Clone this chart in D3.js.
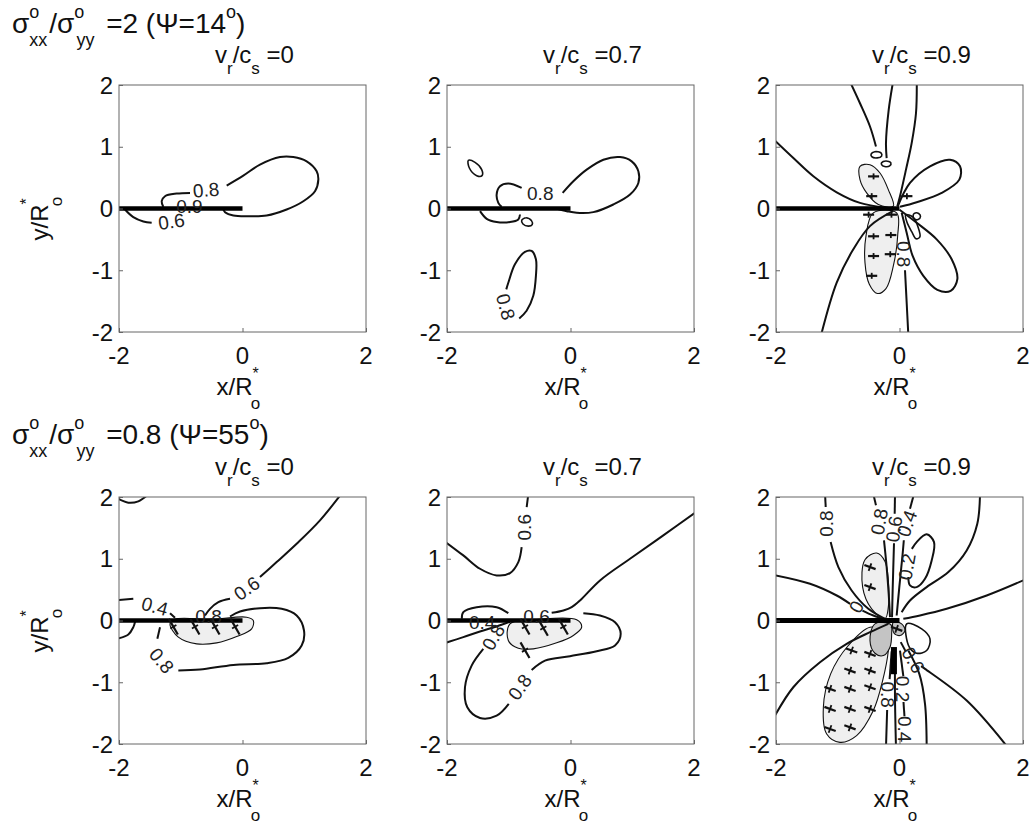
<!DOCTYPE html>
<html>
<head>
<meta charset="utf-8">
<script src="https://cdn.jsdelivr.net/npm/d3@7"></script>
<style>
  body { margin: 0; background: #fff; }
  text { font-family: "Liberation Sans", Arial, Helvetica, sans-serif; fill: #111; }
</style>
</head>
<body>
<svg id="fig" width="1030" height="836"></svg>
<script>
// ---- axis ticks and panel captions ----
const xTicks = [-2, 0, 2];
const yTicks = [-2, -1, 0, 1, 2];
const speedRatios = ["0", "0.7", "0.9"];
const stressRatios = ["2", "0.8"];
const psiAngles = ["14", "55"];

// ---- contour lines, in units of R*o ----
// stress ratio 2, vr/cs = 0
const a_lobe = [[-0.256,0.371],[0.013,0.532],[0.283,0.71],[0.607,0.833],[0.823,0.833],[1.039,0.763],[1.201,0.602],[1.228,0.468],[1.174,0.28],[0.985,0.118],[0.715,-0.016],[0.391,-0.113],[0.121,-0.124],[-0.148,-0.113],[-0.283,-0.059],[-0.31,-0.016]];
const a_hook = [[-0.85,0.253],[-1.066,0.242],[-1.255,0.199],[-1.309,0.118],[-1.282,0.027]];
const a_c06 = [[-1.903,-0.016],[-1.768,-0.14],[-1.606,-0.21],[-1.471,-0.231]];
const a_labels = [["0.8",-0.59,0.30,-5],["0.6",-1.15,-0.21,-8],["0.9",-0.86,0.03,0]];

// stress ratio 2, vr/cs = 0.7
const b_ring = [[-1.654,0.78],[-1.546,0.747],[-1.438,0.629],[-1.433,0.532],[-1.519,0.532],[-1.638,0.656]];
const b_lobe = [[-0.127,0.253],[0.046,0.441],[0.262,0.629],[0.532,0.79],[0.802,0.833],[0.991,0.763],[1.099,0.602],[1.099,0.414],[0.964,0.226],[0.694,0.065],[0.37,-0.059],[0.1,-0.07],[-0.062,-0.043],[-0.224,-0.005]];
const b_hook = [[-0.791,0.333],[-1.007,0.403],[-1.142,0.36],[-1.196,0.226],[-1.169,0.091],[-1.115,0.027]];
const b_under = [[-1.465,-0.043],[-1.357,-0.167],[-1.196,-0.22],[-0.98,-0.22],[-0.845,-0.177],[-0.818,-0.097]];
const b_dot = [[-0.79,-0.19],[-0.72,-0.15],[-0.63,-0.2],[-0.62,-0.26],[-0.68,-0.285],[-0.77,-0.25]];
const b_low = [[-1.04,-1.31],[-1.006,-1.199],[-0.9,-0.903],[-0.738,-0.704],[-0.63,-0.688],[-0.56,-0.823],[-0.56,-1.091],[-0.603,-1.414],[-0.711,-1.656],[-0.83,-1.78]];
const b_labels = [["0.8",-0.49,0.24,0],["0.8",-1.05,-1.59,75]];

// stress ratio 2, vr/cs = 0.9
const c_l1 = [[-2.05,1.13],[-1.719,0.817],[-1.395,0.522],[-1.017,0.263],[-0.64,0.091],[-0.208,0.011],[-0.05,0]];
const c_l2 = [[-0.8,2.05],[-0.64,1.704],[-0.478,1.328],[-0.381,1.005]];
const c_l3 = [[-0.105,2.05],[-0.175,1.597],[-0.219,1.059],[-0.208,0.817]];
const c_l4 = [[0.28,2.05],[0.267,1.543],[0.197,1.059],[0.105,0.629],[0.008,0.199],[-0.035,0.038]];
const c_upper = [[-0.03,0.03],[0.17,0.414],[0.494,0.683],[0.818,0.79],[0.98,0.683],[0.969,0.468],[0.683,0.253],[0.278,0.102],[0.008,0.027]];
const c_lower = [[0.0,-0.02],[0.278,-0.231],[0.602,-0.5],[0.845,-0.823],[0.937,-1.145],[0.829,-1.333],[0.613,-1.317],[0.386,-1.091],[0.213,-0.769],[0.116,-0.392],[0.035,-0.07]];
const c_diag = [[-0.1,-0.04],[-0.478,-0.285],[-0.748,-0.661],[-1.017,-1.199],[-1.27,-2.05]];
const c_stem = [[0.089,-1.0],[0.116,-1.522],[0.143,-2.05]];
const c_ringA = [[-0.46,0.88],[-0.4,0.92],[-0.3,0.9],[-0.29,0.85],[-0.36,0.82],[-0.45,0.84]];
const c_ringB = [[-0.29,0.74],[-0.22,0.77],[-0.14,0.74],[-0.16,0.69],[-0.24,0.68],[-0.29,0.71]];
const c_ringC = [[0.1,-0.1],[0.22,-0.14],[0.3,-0.3],[0.33,-0.46],[0.27,-0.49],[0.2,-0.38],[0.12,-0.22]];
const c_ringD = [[0.24,-0.08],[0.31,-0.08],[0.34,-0.13],[0.3,-0.18],[0.24,-0.17],[0.22,-0.12]];
const c_shadeUp = [[-0.64,0.683],[-0.478,0.71],[-0.316,0.575],[-0.181,0.306],[-0.1,0.038],[-0.343,0.065],[-0.532,0.253],[-0.64,0.468]];
const c_shadeDown = [[-0.424,-0.07],[-0.543,-0.446],[-0.559,-0.876],[-0.489,-1.226],[-0.359,-1.376],[-0.219,-1.296],[-0.1,-0.93],[-0.03,-0.446],[-0.046,-0.07]];
const c_marks = [[-0.42,0.52],[-0.45,0.2],[-0.5,-0.1],[-0.13,-0.1],[-0.42,-0.45],[-0.14,-0.43],[-0.42,-0.77],[-0.15,-0.74],[-0.45,-1.09],[0.12,0.2]];
const c_labels = [["0.8",0.06,-0.74,90]];

// stress ratio 0.8, vr/cs = 0
const d_corner = [[-2.05,1.99],[-1.849,1.908],[-1.687,1.93],[-1.552,2.02]];
const d_c06 = [[1.6,2.05],[1.255,1.622],[0.877,1.243],[0.553,0.946],[0.283,0.703]];
const d_c06b = [[-0.202,0.351],[-0.391,0.297],[-0.526,0.189],[-0.607,0.081]];
const d_c04 = [[-2.05,0.33],[-1.768,0.351]];
const d_c04b = [[-1.174,0.119],[-1.093,0.043]];
const d_left = [[-2.05,-0.3],[-1.849,-0.227],[-1.768,-0.108],[-1.74,-0.02]];
const d_c08 = [[-1.336,-0.108],[-1.379,-0.297]];
const d_c08b = [[-1.039,-0.811],[-0.688,-0.795],[-0.148,-0.719],[0.391,-0.692],[0.742,-0.605],[0.958,-0.405],[0.996,-0.162],[0.877,0.081],[0.634,0.189],[0.283,0.2],[-0.04,0.146],[-0.202,0.065]];
const d_shade = [[-1.174,-0.054],[-1.039,-0.27],[-0.742,-0.378],[-0.418,-0.362],[-0.094,-0.259],[0.148,-0.135],[0.175,0.0],[0.067,0.054],[-0.5,0.02],[-1.1,0.02]];
const d_marks = [[-1.12,-0.1],[-0.77,-0.1],[-0.445,-0.1],[-0.12,-0.1]];
const d_labels = [["0.6",0.07,0.52,-35],["0.4",-1.42,0.23,15],["0.8",-1.31,-0.65,50],["0.8",-0.55,0.06,0]];

// stress ratio 0.8, vr/cs = 0.7
const e_top = [[-0.683,2.05],[-0.71,1.838]];
const e_topb = [[-0.791,1.189],[-0.845,0.946],[-0.98,0.768],[-1.196,0.73],[-1.466,0.838],[-1.736,1.054],[-2.05,1.29]];
const e_long = [[2.05,1.77],[1.503,1.378],[0.964,1.0],[0.478,0.649],[0.154,0.324],[0.019,0.216],[-0.116,0.162],[-0.305,0.124]];
const e_loop = [[-1.76,0.03],[-1.736,0.135],[-1.52,0.216],[-1.196,0.216],[-1.007,0.119]];
const e_below = [[-2.05,-0.37],[-1.736,-0.27],[-1.466,-0.178],[-1.196,-0.097],[-0.98,-0.02]];
const e_c08 = [[-1.412,-0.459],[-1.601,-0.73],[-1.709,-1.081],[-1.671,-1.405],[-1.466,-1.578],[-1.196,-1.541],[-1.0,-1.35]];
const e_c08b = [[-0.629,-0.8],[-0.413,-0.649],[-0.008,-0.578],[0.424,-0.497],[0.721,-0.405],[0.813,-0.216],[0.721,-0.027],[0.478,0.081],[0.208,0.119]];
const e_shade = [[-0.98,-0.054],[-1.007,-0.324],[-0.845,-0.449],[-0.602,-0.459],[-0.224,-0.362],[0.046,-0.243],[0.181,-0.108],[0.1,0.011],[-0.5,0.02]];
const e_marks = [[-0.737,-0.1],[-0.44,-0.12],[-0.116,-0.1],[-0.737,-0.48]];
const e_labels = [["0.6",-0.74,1.51,-90],["0.6",-0.55,0.07,0],["0.4",-1.43,-0.03,0],["0.8",-1.25,-0.27,-60],["0.8",-0.82,-1.08,-55]];

// stress ratio 0.8, vr/cs = 0.9
const f_l1 = [[-2.05,0.74],[-1.449,0.595],[-1.017,0.405],[-0.8,0.27]];
const f_l1b = [[-0.6,0.16],[-0.424,0.081],[-0.181,0.011]];
const f_l2 = [[-1.206,2.05],[-1.195,1.838]];
const f_l2b = [[-1.115,1.27],[-0.99,0.865],[-0.775,0.486],[-0.505,0.189],[-0.235,0.027]];
const f_l3 = [[-0.424,2.05],[-0.381,1.865]];
const f_l3b = [[-0.251,1.297],[-0.208,0.865],[-0.175,0.432],[-0.154,0.054]];
const f_l4 = [[-0.073,2.05],[-0.078,1.73]];
const f_l4b = [[-0.089,1.25],[-0.111,0.486],[-0.121,0.054]];
const f_l5 = [[0.235,2.05],[0.17,1.811]];
const f_l5b = [[0.07,1.3],[0.051,1.081],[-0.003,0.541],[-0.046,0.081]];
const f_arc = [[1.304,2.05],[1.26,1.568],[1.088,1.135],[0.791,0.784],[0.44,0.541],[0.17,0.324],[0.035,0.135]];
const f_c02 = [[0.2,1.16],[0.278,1.27],[0.44,1.395],[0.559,1.27],[0.521,0.973],[0.413,0.676],[0.278,0.541],[0.17,0.568],[0.143,0.703]];
const f_right = [[2.05,0.67],[1.412,0.405],[0.764,0.189],[0.332,0.081],[0.062,0.027]];
const f_fan1 = [[0.02,-0.35],[0.1,-0.5]];
const f_fan1b = [[0.35,-0.74],[0.413,-0.784],[1.088,-1.297],[1.75,-2.05]];
const f_stemA = [[-0.127,-0.5],[-0.16,-0.95]];
const f_stemAb = [[-0.2,-1.45],[-0.219,-2.05]];
const f_stemB = [[-0.073,-0.541],[-0.073,-1.243],[-0.057,-2.05]];
const f_stemC = [[0.008,-0.486],[0.062,-0.9]];
const f_stemCb = [[0.065,-1.32],[0.08,-1.55]];
const f_stemD = [[0.143,-0.486],[0.321,-0.865],[0.413,-1.351],[0.44,-2.05]];
const f_sweep = [[-2.05,-1.6],[-1.72,-1.081],[-1.287,-0.676],[-0.856,-0.378],[-0.478,-0.189],[-0.181,-0.054]];
const f_loop = [[0.116,-0.054],[0.359,-0.135],[0.494,-0.297],[0.44,-0.486],[0.278,-0.53],[0.159,-0.432]];
const f_shadeDown = [[-0.478,-0.108],[-0.829,-0.405],[-1.115,-0.865],[-1.233,-1.405],[-1.179,-1.838],[-0.964,-1.973],[-0.694,-1.865],[-0.424,-1.459],[-0.273,-0.973],[-0.181,-0.486],[-0.181,-0.189]];
const f_shadeUp = [[-0.559,0.984],[-0.37,1.092],[-0.235,0.957],[-0.181,0.649],[-0.181,0.216],[-0.235,0.027],[-0.451,0.189],[-0.597,0.541]];
const f_darkA = [[-0.397,-0.054],[-0.478,-0.324],[-0.397,-0.53],[-0.262,-0.568],[-0.154,-0.432],[-0.127,-0.216],[-0.143,-0.065]];
const f_darkB = [[-0.1,-0.027],[0.035,-0.054],[0.089,-0.162],[0.008,-0.243],[-0.089,-0.205]];
const f_wedge = [[-0.09,-0.43],[-0.09,-0.87]];
const f_marks = [[-0.775,-0.486],[-0.478,-0.541],[-0.802,-0.811],[-0.478,-0.811],[-1.125,-1.108],[-0.802,-1.108],[-0.478,-1.081],[-1.125,-1.432],[-0.802,-1.432],[-0.478,-1.432],[-1.125,-1.757],[-0.802,-1.73],[-0.478,0.865],[-0.478,0.541],[-0.046,-0.135]];
const f_labels = [["0.8",-1.18,1.57,-90],["0.8",-0.33,1.6,-80],["0.6",-0.09,1.48,-82],["0.4",0.12,1.57,-70],["0.2",0.12,0.87,-80],["0",-0.7,0.22,-60],["0.6",0.22,-0.64,60],["0.2",0.05,-1.11,90],["0.8",-0.19,-1.2,90],["0.4",0.08,-1.76,90]];

// ---- panel table built from the arrays above ----
const panels = [
  { row: 0, col: 0, open: [a_lobe, a_hook, a_c06], closed: [], light: [], dark: [],
    labels: a_labels, marks: [], mark: null },
  { row: 0, col: 1, open: [b_lobe, b_hook, b_under, b_low], closed: [b_ring, b_dot], light: [], dark: [],
    labels: b_labels, marks: [], mark: null },
  { row: 0, col: 2, open: [c_l1, c_l2, c_l3, c_l4, c_upper, c_lower, c_diag, c_stem],
    closed: [c_ringA, c_ringB, c_ringC, c_ringD], light: [c_shadeUp, c_shadeDown], dark: [],
    labels: c_labels, marks: c_marks, mark: { len: 11, cross: 6, angle: 0 } },
  { row: 1, col: 0, open: [d_corner, d_c06, d_c06b, d_c04, d_c04b, d_left, d_c08, d_c08b], closed: [],
    light: [d_shade], dark: [], labels: d_labels, marks: d_marks, mark: { len: 18, cross: 7, angle: 60 } },
  { row: 1, col: 1, open: [e_top, e_topb, e_long, e_loop, e_below, e_c08, e_c08b], closed: [],
    light: [e_shade], dark: [], labels: e_labels, marks: e_marks, mark: { len: 18, cross: 7, angle: 60 } },
  { row: 1, col: 2, open: [f_l1, f_l1b, f_l2, f_l2b, f_l3, f_l3b, f_l4, f_l4b, f_l5, f_l5b, f_arc, f_c02,
      f_right, f_fan1, f_fan1b, f_stemA, f_stemAb, f_stemB, f_stemC, f_stemCb, f_stemD, f_sweep],
    closed: [f_loop], light: [f_shadeDown, f_shadeUp], dark: [f_darkA, f_darkB],
    labels: f_labels, marks: f_marks, mark: { len: 12, cross: 8, angle: 20 }, wedge: f_wedge }
];

// ---- layout ----
const colLeft = [119, 447, 776];
const rowTop = [85, 497];
const side = 247;

const svg = d3.select("#fig");
const x = d3.scaleLinear().domain([-2, 2]).range([0, side]);
const y = d3.scaleLinear().domain([-2, 2]).range([side, 0]);
const openLine = d3.line().x(d => x(d[0])).y(d => y(d[1])).curve(d3.curveCatmullRom.alpha(0.5));
const closedLine = d3.line().x(d => x(d[0])).y(d => y(d[1])).curve(d3.curveCatmullRomClosed.alpha(0.5));

svg.append("defs").append("clipPath").attr("id", "box")
  .append("rect").attr("width", side).attr("height", side);

panels.forEach((p, i) => {
  const g = svg.append("g").attr("transform", `translate(${colLeft[p.col]},${rowTop[p.row]})`);
  const plot = g.append("g").attr("clip-path", "url(#box)");

  plot.selectAll(null).data(p.light).join("path")
    .attr("d", closedLine).attr("fill", "#efefef").attr("stroke", "#111").attr("stroke-width", 1.1);
  plot.selectAll(null).data(p.dark).join("path")
    .attr("d", closedLine).attr("fill", "#c4c4c4").attr("stroke", "#111").attr("stroke-width", 1.1);
  plot.selectAll(null).data(p.open).join("path")
    .attr("d", openLine).attr("fill", "none").attr("stroke", "#111").attr("stroke-width", 2);
  plot.selectAll(null).data(p.closed).join("path")
    .attr("d", closedLine).attr("fill", "none").attr("stroke", "#111").attr("stroke-width", 1.6);

  // fault trace along y = 0
  plot.append("line")
    .attr("x1", x(-2)).attr("x2", x(0)).attr("y1", y(0)).attr("y2", y(0))
    .attr("stroke", "#000").attr("stroke-width", i === 5 ? 5 : 4.5);
  if (p.wedge) {
    plot.append("path").attr("d", openLine(p.wedge))
      .attr("stroke", "#000").attr("stroke-width", 6).attr("fill", "none");
  }

  if (p.mark) {
    const m = p.mark;
    const mk = plot.selectAll(null).data(p.marks).join("g")
      .attr("transform", d => `translate(${x(d[0])},${y(d[1])}) rotate(${m.angle})`);
    mk.append("line").attr("x1", -m.len / 2).attr("x2", m.len / 2)
      .attr("stroke", "#111").attr("stroke-width", 2.2);
    mk.append("line").attr("y1", -m.cross / 2).attr("y2", m.cross / 2)
      .attr("stroke", "#111").attr("stroke-width", 1.8);
  }

  plot.selectAll(null).data(p.labels).join("text")
    .attr("transform", d => `translate(${x(d[1])},${y(d[2])}) rotate(${d[3]})`)
    .attr("text-anchor", "middle").attr("dy", "0.35em")
    .attr("font-size", 19).style("fill", "#222")
    .text(d => d[0]);

  // frame and inward ticks
  g.append("rect").attr("width", side).attr("height", side)
    .attr("fill", "none").attr("stroke", "#666").attr("stroke-width", 1);
  const xAx = d3.axisBottom(x).tickValues(xTicks).tickSize(-4).tickFormat("");
  const yAx = d3.axisLeft(y).tickValues(yTicks).tickSize(-4).tickFormat("");
  g.append("g").attr("transform", `translate(0,${side})`).call(xAx)
    .call(s => s.select(".domain").remove()).selectAll("line").attr("stroke", "#666");
  g.append("g").call(yAx)
    .call(s => s.select(".domain").remove()).selectAll("line").attr("stroke", "#666");

  // tick labels
  g.selectAll(null).data(yTicks).join("text")
    .attr("x", -6).attr("y", d => y(d)).attr("dy", "0.36em")
    .attr("text-anchor", "end").attr("font-size", 24).text(d => d);
  g.selectAll(null).data(xTicks).join("text")
    .attr("x", d => x(d)).attr("y", side + 32)
    .attr("text-anchor", "middle").attr("font-size", 24).text(d => d);

  // title v_r / c_s = ...
  const t = g.append("text").attr("x", 96).attr("y", -22).attr("font-size", 24);
  t.append("tspan").text("v");
  t.append("tspan").attr("dy", 11).attr("font-size", 17).text("r");
  t.append("tspan").attr("dy", -11).text("/c");
  t.append("tspan").attr("dy", 11).attr("font-size", 17).text("s");
  t.append("tspan").attr("dy", -11).text(" =" + speedRatios[p.col]);

  // x-axis label
  const xl = g.append("text").attr("x", side / 2 - 26).attr("y", side + 63).attr("font-size", 24);
  xl.append("tspan").text("x/R");
  xl.append("tspan").attr("dy", -16).attr("font-size", 16).text("*");
  xl.append("tspan").attr("dx", -8).attr("dy", 30).attr("font-size", 17).text("o");

  // y-axis label, first column only
  if (p.col === 0) {
    const yl = g.append("text")
      .attr("transform", `translate(${-71},${side / 2 + 32}) rotate(-90)`).attr("font-size", 24);
    yl.append("tspan").text("y/R");
    yl.append("tspan").attr("dy", -16).attr("font-size", 16).text("*");
    yl.append("tspan").attr("dx", -8).attr("dy", 30).attr("font-size", 17).text("o");
  }
});

// row headers: sigma_xx / sigma_yy = ... (Psi = ...)
stressRatios.forEach((r, k) => {
  const t = svg.append("text").attr("x", 12).attr("y", k === 0 ? 33 : 444).attr("font-size", 28);
  t.append("tspan").text("σ");
  t.append("tspan").attr("dy", -15).attr("font-size", 18).text("o");
  t.append("tspan").attr("dx", -10).attr("dy", 28).attr("font-size", 18).text("xx");
  t.append("tspan").attr("dx", 2).attr("dy", -13).text("/σ");
  t.append("tspan").attr("dy", -15).attr("font-size", 18).text("o");
  t.append("tspan").attr("dx", -8).attr("dy", 28).attr("font-size", 18).text("yy");
  t.append("tspan").attr("dx", 4).attr("dy", -13).text(" =" + r + " (Ψ=" + psiAngles[k]);
  t.append("tspan").attr("dy", -15).attr("font-size", 18).text("o");
  t.append("tspan").attr("dy", 15).text(")");
});
</script>
</body>
</html>
